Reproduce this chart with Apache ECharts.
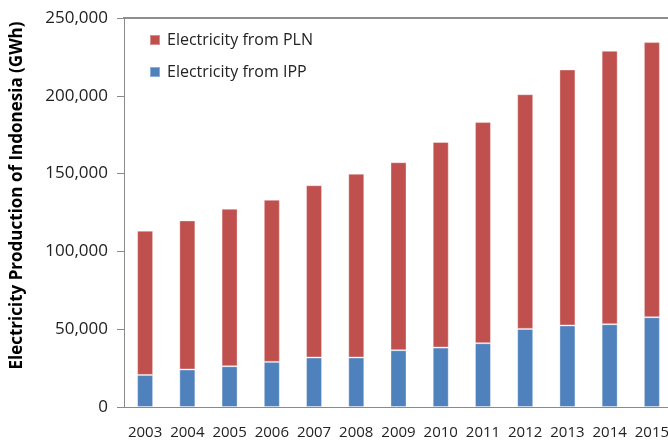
<!DOCTYPE html>
<html>
<head>
<meta charset="utf-8">
<script src="https://cdn.jsdelivr.net/npm/echarts@6/dist/echarts.min.js"></script>
<style>
  html, body { margin: 0; padding: 0; background: #fff; }
  #main { width: 668px; height: 444px; }
</style>
</head>
<body>
<div id="main"></div>
<script>
// data (GWh)
var years = ['2003', '2004', '2005', '2006', '2007', '2008', '2009', '2010', '2011', '2012', '2013', '2014', '2015']
var ippValues = [20600, 24100, 26200, 29000, 31800, 31800, 36500, 38200, 41000, 50200, 52400, 53200, 57700]
var plnValues = [92700, 95800, 101200, 104200, 110700, 118100, 120800, 132100, 142100, 150800, 164500, 175700, 176800]
var yTicks = [0, 50000, 100000, 150000, 200000, 250000]

var fontFamily = '"Open Sans", "Noto Sans", sans-serif'
var W = 668
var gridLeft = 124
var gridTop = 18
var gridBottom = 37
var gridWidth = 549 // runs a little past the right edge, like the cropped original
var axisColor = '#8a8a8a'

var myChart = echarts.init(document.getElementById('main'))

myChart.setOption({
  animation: false,
  textStyle: { fontFamily: fontFamily },
  grid: {
    left: gridLeft,
    top: gridTop,
    bottom: gridBottom,
    width: gridWidth,
    outerBoundsMode: 'none',
    containLabel: false
  },
  // top frame line of the plot area
  graphic: [
    {
      type: 'line',
      shape: { x1: gridLeft - 1, y1: gridTop, x2: W, y2: gridTop },
      style: { stroke: '#6a6a6a', lineWidth: 1.5 }
    }
  ],
  legend: {
    orient: 'vertical',
    left: 144,
    top: 26,
    itemWidth: 10,
    itemHeight: 10,
    itemGap: 14,
    icon: 'rect',
    data: ['Electricity from PLN', 'Electricity from IPP'],
    textStyle: { fontSize: 16, lineHeight: 18, color: '#222', fontFamily: fontFamily, padding: [0, 0, 0, 2] }
  },
  xAxis: {
    type: 'category',
    data: years,
    axisLine: { lineStyle: { color: axisColor, width: 1 } },
    axisTick: { length: 6, lineStyle: { color: axisColor } },
    axisLabel: { fontSize: 15, color: '#222', margin: 18, interval: 0 },
    splitLine: { show: false }
  },
  yAxis: {
    type: 'value',
    min: yTicks[0],
    max: yTicks[yTicks.length - 1],
    interval: 50000,
    name: 'Electricity Production of Indonesia (GWh)',
    nameLocation: 'middle',
    nameGap: 98,
    nameMoveOverlap: false,
    nameTextStyle: { fontSize: 17, fontWeight: 'bold', color: '#000', padding: [0, 0, 0, 34] },
    axisLine: { show: true, lineStyle: { color: axisColor } },
    axisTick: { show: true, inside: false, length: 7, lineStyle: { color: axisColor } },
    axisLabel: {
      fontSize: 17,
      color: '#222',
      margin: 16,
      formatter: function (v) { return v.toLocaleString('en-US') }
    },
    splitLine: { show: false }
  },
  series: [
    {
      name: 'Electricity from IPP',
      type: 'bar',
      stack: 'total',
      barWidth: 16,
      itemStyle: { color: '#4f81bd', borderColor: 'rgba(255,255,255,0.35)', borderWidth: 1 },
      data: ippValues
    },
    {
      name: 'Electricity from PLN',
      type: 'bar',
      stack: 'total',
      barWidth: 16,
      itemStyle: { color: '#c0504d', borderColor: 'rgba(255,255,255,0.35)', borderWidth: 1 },
      data: plnValues
    }
  ]
})
</script>
</body>
</html>
